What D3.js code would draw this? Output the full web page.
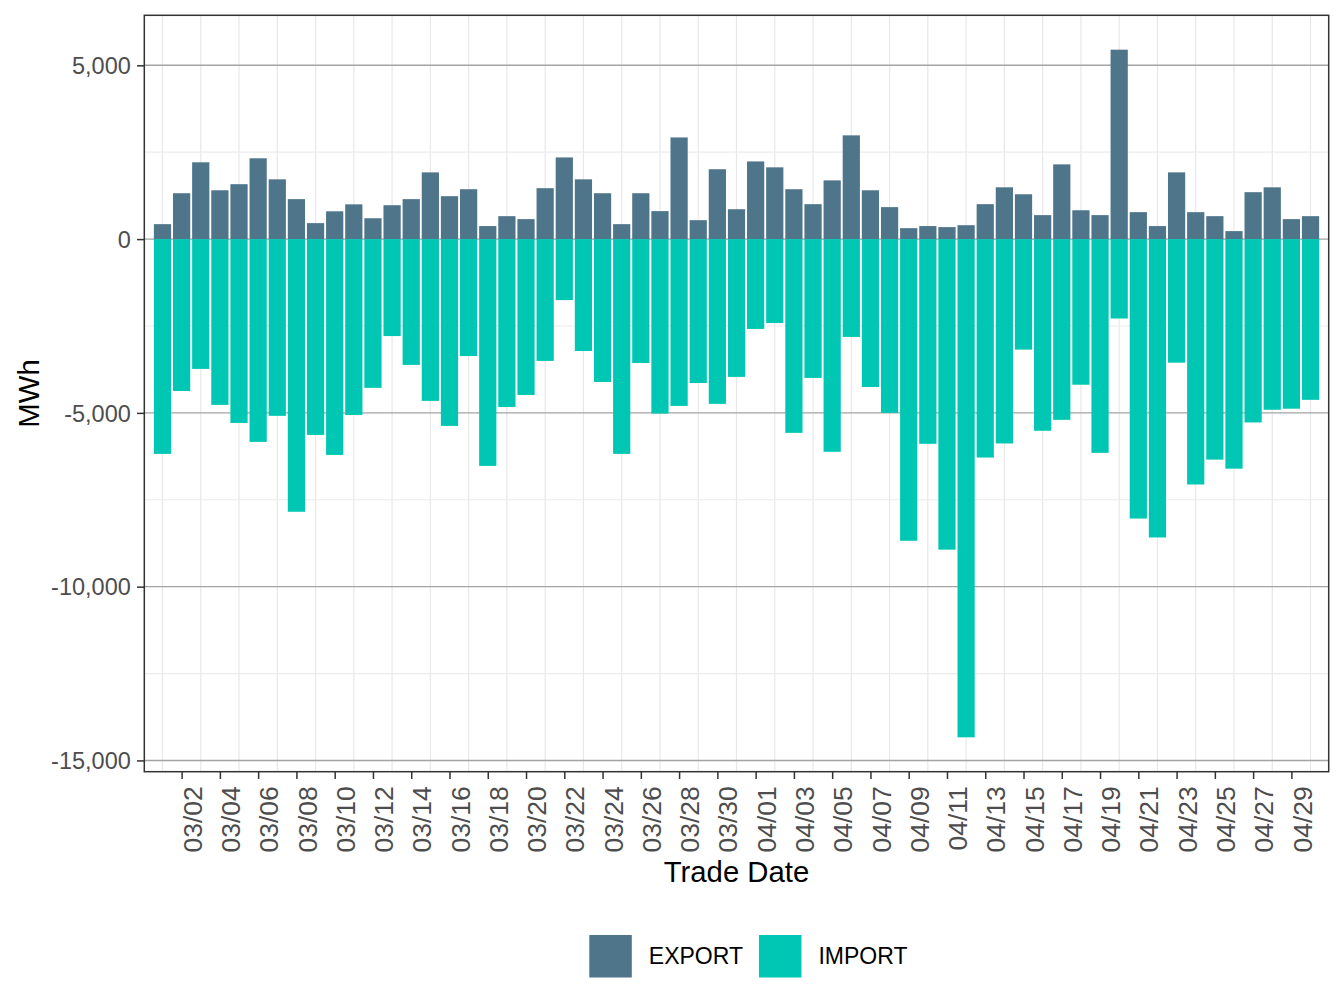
<!DOCTYPE html>
<html>
<head>
<meta charset="utf-8">
<script src="https://cdn.jsdelivr.net/npm/d3@7"></script>
<style>
  body { margin: 0; background: #fff; }
  svg { display: block; font-family: "Liberation Sans", Arial, Helvetica, sans-serif; }
</style>
</head>
<body>
<div id="chart"></div>
<script>
// trade days 03/01 .. 04/30
var startDay = new Date(Date.UTC(2023, 2, 1));
var endDay = new Date(Date.UTC(2023, 4, 1));
var tradeDates = d3.utcDay.range(startDay, endDay);

// MWh per day
var exportValues = [430, 1320, 2210, 1405, 1580, 2325, 1720, 1150, 460, 800,
	1000, 600, 975, 1150, 1920, 1235, 1435, 375, 660, 575,
	1465, 2350, 1720, 1320, 430, 1320, 805, 2925, 545, 2010,
	860, 2235, 2065, 1435, 1005, 1690, 2985, 1405, 920, 315,
	375, 345, 400, 1005, 1490, 1290, 690, 2150, 830, 690,
	5450, 775, 375, 1920, 775, 660, 230, 1350, 1490, 575,
	660];

var importValues = [-6180, -4370, -3735, -4770, -5290, -5835, -5085, -7845, -5635, -6210,
	-5060, -4280, -2790, -3620, -4655, -5375, -3365, -6525, -4830, -4485,
	-3505, -1755, -3220, -4110, -6180, -3565, -5020, -4800, -4140, -4740,
	-3965, -2585, -2415, -5575, -3995, -6120, -2815, -4255, -5000, -8680,
	-5890, -8935, -14335, -6285, -5880, -3180, -5515, -5200, -4190, -6150,
	-2285, -8040, -8585, -3555, -7060, -6345, -6605, -5275, -4910, -4880,
	-4625];

var seriesNames = ["EXPORT", "IMPORT"];
var seriesColors = ["#4f758a", "#00c7b3"];

var yTickValues = [5000, 0, -5000, -10000, -15000];
var yMinorValues = [2500, -2500, -7500, -12500];

var width = 1344, height = 1008;
var margin = { top: 15.3, right: 15.3, bottom: 1008 - 771.7, left: 144.3 };
var innerW = width - margin.left - margin.right,
	innerH = height - margin.top - margin.bottom;

var fmt = d3.formatLocale({ decimal: ".", thousands: ",", grouping: [3], currency: ["", ""], minus: "-" }).format(",");

var svg = d3.select("#chart").append("svg")
	.attr("width", width)
	.attr("height", height);

var g = svg.append("g")
	.attr("transform", "translate(" + margin.left + "," + margin.top + ")");

// Scales
var dayMs = 24 * 3600 * 1000;
var x = d3.scaleUtc()
	.domain([new Date(+tradeDates[0] - 0.95 * dayMs), new Date(+tradeDates[tradeDates.length - 1] + 0.95 * dayMs)])
	.range([0, innerW]);

var yMin = d3.min(importValues), yMax = d3.max(exportValues);
var pad = (yMax - yMin) * 0.05;
var y = d3.scaleLinear()
	.domain([yMin - pad, yMax + pad])
	.range([innerH, 0]);

var barW = x(new Date(+tradeDates[0] + 0.9 * dayMs)) - x(tradeDates[0]);

// grid
var minorDays = tradeDates.filter(function(d, i) { return i % 2 === 0; });
g.selectAll(".vgrid").data(minorDays).enter().append("line")
	.attr("x1", function(d) { return x(d); })
	.attr("x2", function(d) { return x(d); })
	.attr("y1", 0).attr("y2", innerH)
	.attr("stroke", "#e8e8e8").attr("stroke-width", 1.2);

g.selectAll(".hminor").data(yMinorValues).enter().append("line")
	.attr("x1", 0).attr("x2", innerW)
	.attr("y1", function(d) { return y(d); })
	.attr("y2", function(d) { return y(d); })
	.attr("stroke", "#ebebeb").attr("stroke-width", 1.2);

g.selectAll(".hmajor").data(yTickValues).enter().append("line")
	.attr("x1", 0).attr("x2", innerW)
	.attr("y1", function(d) { return y(d); })
	.attr("y2", function(d) { return y(d); })
	.attr("stroke", "#a3a3a3").attr("stroke-width", 1.4);

// bars
var series = [exportValues, importValues];
series.forEach(function(vals, s) {
	g.append("g").selectAll("rect")
		.data(vals)
		.enter().append("rect")
		.attr("x", function(d, i) { return x(tradeDates[i]) - barW / 2; })
		.attr("width", barW)
		.attr("y", function(d) { return d >= 0 ? y(d) : y(0); })
		.attr("height", function(d) { return Math.abs(y(d) - y(0)); })
		.attr("fill", seriesColors[s]);
});

// panel border
g.append("rect")
	.attr("width", innerW).attr("height", innerH)
	.attr("fill", "none").attr("stroke", "#333333").attr("stroke-width", 1.5);

// axes
var tickDays = tradeDates.filter(function(d, i) { return i % 2 === 1; });
var xAxis = d3.axisBottom(x)
	.tickValues(tickDays)
	.tickFormat(d3.utcFormat("%m/%d"))
	.tickSize(7.3)
	.tickSizeOuter(0);

var yAxis = d3.axisLeft(y)
	.tickValues(yTickValues)
	.tickFormat(fmt)
	.tickSize(7.3)
	.tickSizeOuter(0);

var gx = g.append("g")
	.attr("transform", "translate(0," + innerH + ")")
	.call(xAxis);
gx.select(".domain").remove();
gx.selectAll(".tick line").attr("stroke", "#333333").attr("stroke-width", 1.5);
gx.selectAll(".tick text")
	.attr("font-size", 26.5)
	.attr("fill", "#4d4d4d")
	.attr("text-anchor", "end")
	.attr("transform", "translate(0,14.5) rotate(-90)")
	.attr("x", 0).attr("y", 0)
	.attr("dy", "0.74em");

var gy = g.append("g").call(yAxis);
gy.select(".domain").remove();
gy.selectAll(".tick line").attr("stroke", "#333333").attr("stroke-width", 1.5);
gy.selectAll(".tick text")
	.attr("font-size", 23.5)
	.attr("fill", "#4d4d4d")
	.attr("x", -13.5)
	.attr("dy", "0.35em");

// axis titles
svg.append("text")
	.attr("x", margin.left + innerW / 2)
	.attr("y", 882)
	.attr("text-anchor", "middle")
	.attr("font-size", 29.3)
	.attr("fill", "#000")
	.text("Trade Date");

svg.append("text")
	.attr("transform", "translate(38.5," + (margin.top + innerH / 2) + ") rotate(-90)")
	.attr("text-anchor", "middle")
	.attr("font-size", 29.3)
	.attr("fill", "#000")
	.text("MWh");

// legend
var keySize = 42.5;
var legend = svg.append("g").attr("transform", "translate(589.3,935)");
var lx = 0;
seriesNames.forEach(function(name, i) {
	legend.append("rect")
		.attr("x", lx).attr("y", 0)
		.attr("width", keySize).attr("height", keySize)
		.attr("fill", seriesColors[i]);
	var t = legend.append("text")
		.attr("x", lx + keySize + 17)
		.attr("y", keySize / 2)
		.attr("dy", "0.35em")
		.attr("font-size", 23)
		.attr("fill", "#000")
		.text(name);
	lx += keySize + 17 + t.node().getComputedTextLength() + 16;
});
</script>
</body>
</html>
